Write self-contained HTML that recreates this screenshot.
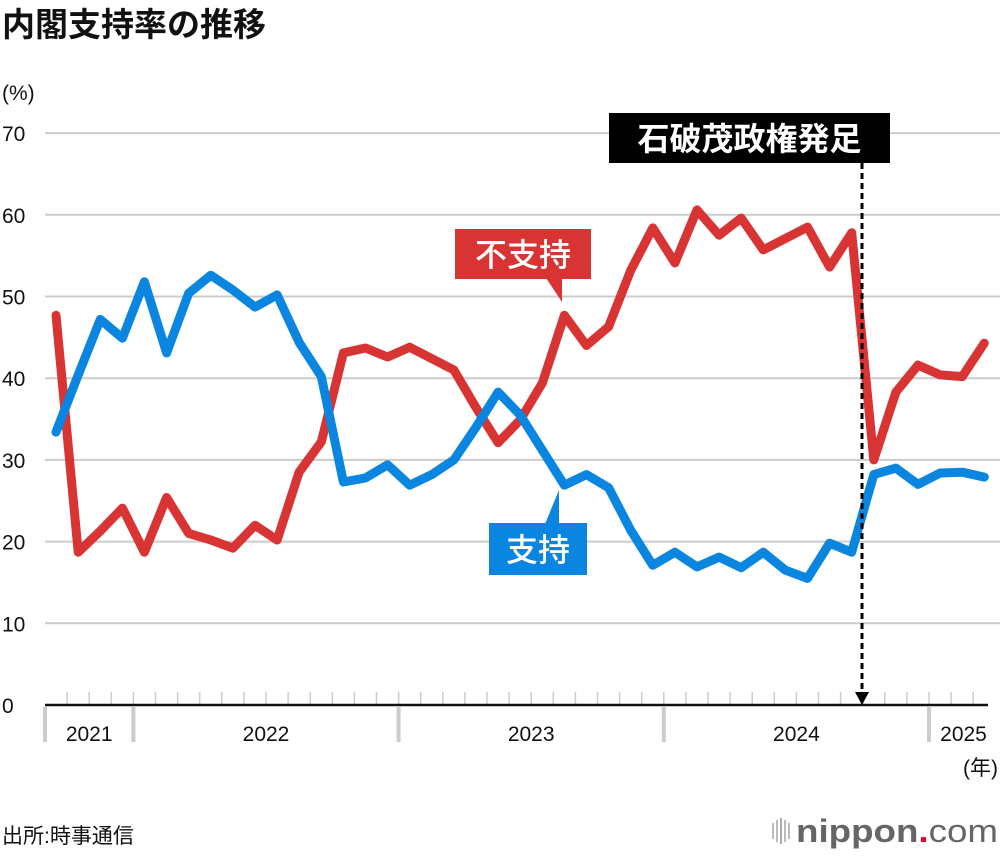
<!DOCTYPE html>
<html><head><meta charset="utf-8">
<style>
body{margin:0;background:#fff;}
svg{display:block;font-family:"Liberation Sans","Noto Sans CJK JP",sans-serif;}
</style></head>
<body>
<svg id="chart" width="1000" height="856" viewBox="0 0 1000 856" xmlns="http://www.w3.org/2000/svg">
<text x="2" y="36" font-size="33" font-weight="bold" fill="#111">内閣支持率の推移</text>
<text x="2" y="100" font-size="21" fill="#111">(%)</text>
<g id="grid"></g>
<g id="ticks"></g>
<g id="lines"></g>
<g id="event">
 <line x1="862" y1="163" x2="862" y2="695" stroke="#000" stroke-width="3" stroke-dasharray="6,4"/>
 <polygon points="855,692 869,692 862,705" fill="#000"/>
 <rect x="609" y="113" width="281" height="50" fill="#000"/>
 <text x="749.5" y="150" font-size="32" font-weight="bold" fill="#fff" text-anchor="middle">石破茂政権発足</text>
</g>
<g>
 <rect x="455" y="229" width="136" height="50" fill="#d83434"/>
 <polygon points="546,278 562,278 562,302" fill="#d83434"/>
 <text x="523" y="266" font-size="32" font-weight="500" fill="#fff" text-anchor="middle">不支持</text>
 <rect x="489" y="523" width="98" height="52" fill="#0a86e0"/>
 <polygon points="545,524 559,524 559,490" fill="#0a86e0"/>
 <text x="538" y="561" font-size="32" font-weight="500" fill="#fff" text-anchor="middle">支持</text>
</g>
<text x="998" y="775" font-size="21" fill="#111" text-anchor="end">(年)</text>
<text x="2" y="843" font-size="21" fill="#111">出所:時事通信</text>
<g>
 <rect x="772" y="823" width="2" height="16" fill="#bbb"/><rect x="776" y="820" width="2" height="22" fill="#bbb"/><rect x="780" y="818" width="2" height="26" fill="#aaa"/><rect x="784" y="820" width="2" height="22" fill="#bbb"/><rect x="788" y="823" width="2" height="16" fill="#bbb"/>
 <text x="796" y="842" font-size="32" fill="#666" font-weight="bold" textLength="202" lengthAdjust="spacingAndGlyphs">nippon<tspan fill="#e4002b">.</tspan><tspan font-weight="normal">com</tspan></text>
</g>
</svg>
<script>
const months = ["2021-09","2021-10","2021-11","2021-12","2022-01","2022-02","2022-03","2022-04","2022-05","2022-06","2022-07","2022-08","2022-09","2022-10","2022-11","2022-12","2023-01","2023-02","2023-03","2023-04","2023-05","2023-06","2023-07","2023-08","2023-09","2023-10","2023-11","2023-12","2024-01","2024-02","2024-03","2024-04","2024-05","2024-06","2024-07","2024-08","2024-09","2024-10","2024-11","2024-12","2025-01","2025-02","2025-03"];
const approval = [33.4,40.4,47.2,44.9,51.8,43.1,50.4,52.6,50.8,48.7,50.2,44.4,40.2,27.3,27.8,29.4,26.9,28.2,30.0,34.0,38.3,35.5,31.2,26.9,28.2,26.6,21.4,17.1,18.7,16.9,18.1,16.8,18.7,16.5,15.5,19.8,18.7,28.2,29.0,27.0,28.4,28.5,27.9];
const disapproval = [47.7,18.7,21.3,24.1,18.7,25.4,21.0,20.2,19.2,22.0,20.2,28.5,32.2,43.1,43.7,42.6,43.8,42.4,41.0,36.4,32.1,34.9,39.4,47.7,44.0,46.3,53.2,58.4,54.1,60.6,57.5,59.6,55.7,57.1,58.5,53.6,57.8,30.0,38.3,41.6,40.4,40.2,44.3];
const yTicks = [0,10,20,30,40,50,60,70];
const years = [{label:"2021",start:0,n:4},{label:"2022",start:4,n:12},{label:"2023",start:16,n:12},{label:"2024",start:28,n:12},{label:"2025",start:40,n:3}];

const NS="http://www.w3.org/2000/svg";
const X0=45, STEP=22.1, Y0=705, YS=8.17;
const xScale=i=>X0+STEP*(i+0.5);
const xEdge=i=>X0+STEP*i;
const yScale=v=>Y0-v*YS;
function mk(tag,attrs,parent){const e=document.createElementNS(NS,tag);for(const k in attrs)e.setAttribute(k,attrs[k]);parent.appendChild(e);return e;}
const grid=document.getElementById('grid'), ticks=document.getElementById('ticks'), lines=document.getElementById('lines');
yTicks.forEach(t=>{
  if(t>0){const l=mk('line',{x1:45,x2:1000,y1:yScale(t),y2:yScale(t),stroke:'#ccc','stroke-width':2},grid);
  
  }
  const tx=mk('text',{x:2,y:yScale(t)+8,'font-size':21,fill:'#111'},grid);
  tx.textContent=t;
  
  
});
for(let i=1;i<months.length;i++){
  const l=mk('line',{x1:xEdge(i),x2:xEdge(i),y1:692,y2:705,stroke:'#ccc','stroke-width':1.5},ticks);
  
  
}
const ax=mk('line',{x1:45,x2:988,y1:705,y2:705,stroke:'#111','stroke-width':2.5},ticks);


years.forEach(y=>{
  const s=mk('rect',{x:xEdge(y.start)-2,y:707,width:4,height:35,fill:'#ccc'},ticks);
  
  
  const cx=(xEdge(y.start)+Math.min(xEdge(y.start+y.n),990))/2 + (y.label==="2025"?4:0);
  const t=mk('text',{x:cx,y:741,'font-size':21,fill:'#111','text-anchor':'middle'},ticks);
  t.textContent=y.label;
  
  
});
function series(vals,color,name){
  const d=vals.map((v,i)=>(i?'L':'M')+xScale(i).toFixed(1)+','+yScale(v).toFixed(1)).join(' ');
  const p=mk('path',{d:d,fill:'none',stroke:color,'stroke-width':9,'stroke-linejoin':'round','stroke-linecap':'round'},lines);
  
  
}
series(disapproval,'#d83434','disapproval-line');
series(approval,'#0a86e0','approval-line');
</script>
</body></html>
